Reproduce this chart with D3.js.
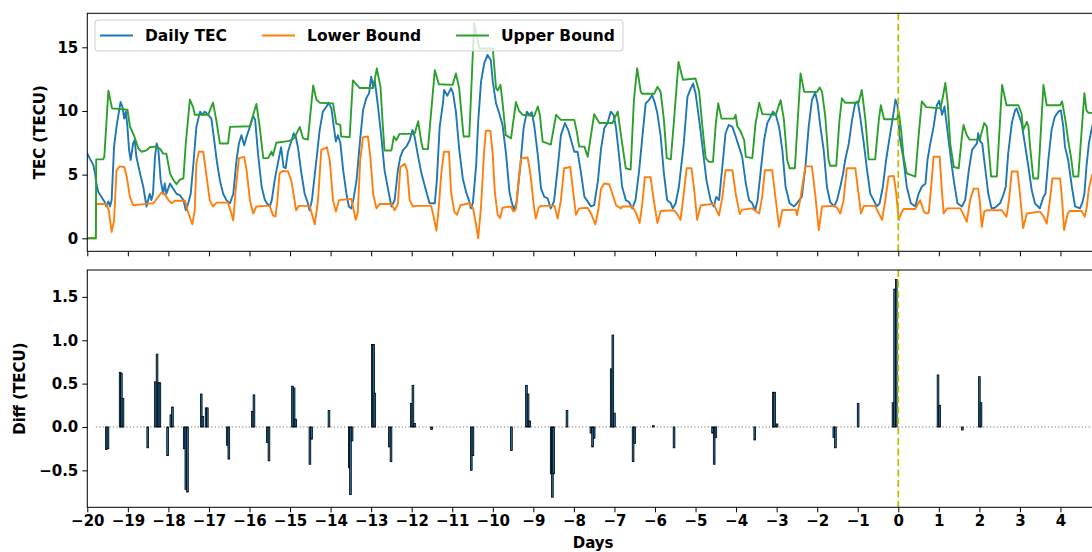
<!DOCTYPE html>
<html>
<head>
<meta charset="utf-8">
<script src="https://cdn.jsdelivr.net/npm/d3@7"></script>
<style>
body { margin: 0; background: #fff; }
svg text { font-family: "DejaVu Sans", sans-serif; font-weight: bold; fill: #000; }
</style>
</head>
<body>
<svg id="chart" width="1092" height="552"></svg>
<script>
// values, [day, TECU]
var tecDaily = [[-20,6.67],[-19.94,6.28],[-19.85,5.75],[-19.81,5.1],[-19.77,4.2],[-19.73,3.65],[-19.65,3.25],[-19.57,2.85],[-19.53,2.5],[-19.48,2.9],[-19.44,2.5],[-19.40,3.0],[-19.34,7.2],[-19.28,8.75],[-19.24,9.55],[-19.18,10.7],[-19.13,10.3],[-19.09,9.4],[-19.05,9.95],[-19.01,8.75],[-18.97,6.95],[-18.93,6.15],[-18.87,7.45],[-18.83,7.7],[-18.79,6.4],[-18.70,5.1],[-18.62,4.05],[-18.54,2.5],[-18.46,3.5],[-18.42,3.0],[-18.38,3.5],[-18.33,6.4],[-18.29,7.45],[-18.25,7.05],[-18.19,4.55],[-18.13,3.5],[-18.09,4.3],[-18.05,3.5],[-17.96,4.3],[-17.88,3.9],[-17.80,3.5],[-17.72,3.4],[-17.63,3.0],[-17.57,2.2],[-17.51,2.75],[-17.45,3.5],[-17.39,5.6],[-17.31,8.75],[-17.22,9.95],[-17.17,9.7],[-17.10,9.95],[-17.02,9.7],[-16.94,9.4],[-16.87,7.7],[-16.81,6.15],[-16.73,4.55],[-16.65,3.5],[-16.57,3.0],[-16.48,2.75],[-16.40,3.5],[-16.32,6.15],[-16.26,7.45],[-16.20,8.1],[-16.13,7.3],[-16.07,8.0],[-15.99,8.75],[-15.91,9.6],[-15.86,9.3],[-15.79,6.65],[-15.70,4.05],[-15.62,3.0],
  [-15.56,2.7],[-15.50,2.5],[-15.45,3.0],[-15.38,4.55],[-15.30,5.9],[-15.22,7.15],[-15.16,5.6],[-15.11,5.5],[-15.05,6.8],[-14.97,7.6],[-14.91,8.25],[-14.86,8.0],[-14.80,7.05],[-14.72,5.1],[-14.64,3.5],[-14.56,2.75],[-14.52,2.2],[-14.46,3.0],[-14.35,6.15],[-14.27,8.5],[-14.19,9.95],[-14.10,10.35],[-14.05,10.65],[-13.98,10.2],[-13.92,8.75],[-13.87,7.6],[-13.82,8.1],[-13.76,7.5],[-13.69,5.35],[-13.61,3.5],[-13.55,2.5],[-13.49,2.35],[-13.44,3.0],[-13.36,4.55],[-13.28,7.45],[-13.20,10.05],[-13.12,11.0],[-13.05,11.4],[-13.0,12.7],[-12.95,11.9],[-12.91,12.4],[-12.83,10.35],[-12.75,8.0],[-12.67,5.35],[-12.58,3.8],[-12.50,2.5],[-12.42,3.0],[-12.34,5.35],[-12.28,6.4],[-12.21,6.95],[-12.13,7.2],[-12.05,7.7],[-11.98,8.5],[-11.93,8.0],[-11.84,6.4],[-11.76,5.1],[-11.65,3.8],[-11.56,2.75],[-11.43,2.75],[-11.38,4.55],[-11.31,8.75],[-11.23,10.6],
  [-11.20,11.65],[-11.12,11.2],[-11.03,11.8],[-10.98,11.4],[-10.91,9.95],[-10.83,7.05],[-10.74,4.7],[-10.66,3.65],[-10.58,2.9],[-10.54,2.35],[-10.49,2.8],[-10.41,5.75],[-10.36,9.15],[-10.29,12.3],[-10.21,13.75],[-10.13,14.4],[-10.05,14.0],[-10.0,12.3],[-9.92,10.6],[-9.84,9.8],[-9.76,8.9],[-9.67,6.55],[-9.59,3.65],[-9.54,2.9],[-9.47,2.2],[-9.41,2.9],[-9.32,5.75],[-9.24,8.65],[-9.16,9.95],[-9.10,9.7],[-9.04,9.9],[-8.98,8.9],[-8.89,6.55],[-8.81,3.9],[-8.73,3.25],[-8.65,3.15],[-8.57,2.35],[-8.49,2.9],[-8.40,5.5],[-8.32,8.1],[-8.22,9.05],[-8.14,8.5],[-8.06,7.6],[-7.99,6.8],[-7.91,6.8],[-7.83,5.25],[-7.74,3.25],[-7.66,2.9],[-7.58,2.5],[-7.50,2.6],[-7.41,4.45],[-7.33,7.05],[-7.25,8.65],[-7.17,9.05],[-7.09,9.95],[-7.02,9.7],[-6.96,8.65],[-6.88,6.3],
  [-6.81,4.05],[-6.72,3.0],[-6.64,2.85],[-6.56,2.35],[-6.48,3.0],[-6.39,5.35],[-6.31,8.0],[-6.23,10.6],[-6.15,10.85],[-6.07,11.25],[-6.01,10.7],[-5.94,9.8],[-5.86,8.0],[-5.78,5.1],[-5.70,3.0],[-5.61,2.75],[-5.56,2.35],[-5.49,2.75],[-5.41,4.05],[-5.29,7.45],[-5.20,11.1],[-5.12,11.75],[-5.06,12.15],[-5.0,11.4],[-4.91,9.3],[-4.83,7.2],[-4.73,4.55],[-4.63,3.0],[-4.55,2.5],[-4.49,3.25],[-4.42,3.0],[-4.34,5.6],[-4.26,8.25],[-4.18,8.9],[-4.09,8.75],[-4.01,8.0],[-3.93,7.2],[-3.85,6.4],[-3.76,4.3],[-3.68,3.0],[-3.60,2.75],[-3.53,2.2],[-3.47,3.0],[-3.39,5.35],[-3.31,7.7],[-3.23,9.05],[-3.15,9.55],[-3.09,9.95],[-3.02,9.7],[-2.94,8.75],[-2.86,6.95],[-2.78,4.05],[-2.68,2.75],[-2.57,2.5],
  [-2.50,2.75],[-2.38,3.25],[-2.29,5.6],[-2.21,8.75],[-2.13,10.85],[-2.05,11.45],[-1.99,10.6],[-1.92,8.75],[-1.84,6.95],[-1.76,4.05],[-1.68,2.85],[-1.58,2.5],[-1.51,3.0],[-1.43,4.05],[-1.36,5.1],[-1.31,6.15],[-1.22,7.45],[-1.14,9.3],[-1.06,10.65],[-1.0,10.75],[-0.94,9.55],[-0.85,7.45],[-0.77,5.35],[-0.69,3.5],[-0.61,3.0],[-0.53,2.5],[-0.46,2.75],[-0.38,4.05],[-0.30,6.15],[-0.21,8.0],[-0.13,9.55],[-0.07,10.9],[-0.02,10.45],[0.03,8.0],[0.12,6.4],[0.21,4.05],[0.31,2.75],[0.42,2.5],[0.50,3.5],[0.58,4.05],[0.67,4.3],[0.72,6.15],[0.79,7.45],[0.87,8.75],[0.95,10.45],[1.01,10.8],[1.08,9.7],[1.14,10.35],[1.22,8.25],[1.30,6.15],[1.38,4.3],[1.46,2.75],[1.57,2.5],[1.65,3.0],[1.74,5.35],[1.82,6.95],[1.94,7.45],
  [1.97,8.25],[2.02,7.6],[2.07,7.45],[2.14,5.6],[2.22,3.5],[2.30,2.35],[2.38,2.4],[2.51,2.75],[2.59,3.4],[2.65,4.05],[2.71,6.65],[2.80,9.05],[2.88,10.05],[2.92,10.2],[2.96,9.8],[3.04,9.05],[3.12,7.45],[3.21,5.6],[3.29,3.8],[3.37,2.75],[3.49,2.35],[3.58,3.25],[3.63,3.5],[3.70,6.15],[3.78,8.5],[3.86,9.55],[3.95,9.95],[4.01,10.05],[4.07,8.75],[4.11,7.2],[4.19,6.15],[4.28,4.05],[4.36,2.5],[4.48,2.35],[4.54,2.8],[4.59,3.5],[4.64,5.6],[4.70,7.45],[4.78,8.75],[4.95,10.3]];

var lowerBound = [[-20,0],[-19.79,0],[-19.78,2.7],[-19.53,2.7],[-19.47,2.2],[-19.40,0.5],[-19.34,1.4],[-19.28,5.35],[-19.20,5.65],[-19.09,5.6],[-19.03,4.9],[-18.95,3.25],[-18.87,2.6],[-18.54,2.7],[-18.37,2.75],[-18.17,3.6],[-18.09,3.45],[-18.0,3.0],[-17.92,2.75],[-17.84,2.95],[-17.59,2.95],[-17.51,2.0],[-17.41,1.1],[-17.35,2.2],[-17.31,5.9],[-17.25,6.8],[-17.14,6.8],[-17.08,5.35],[-16.98,3.0],[-16.90,2.5],[-16.81,2.8],[-16.53,2.8],[-16.45,2.0],[-16.40,1.4],[-16.35,3.5],[-16.26,6.3],[-16.13,6.4],[-16.07,5.3],[-15.99,3.0],[-15.91,1.95],[-15.83,2.5],[-15.62,2.55],
  [-15.50,2.55],[-15.42,1.8],[-15.36,1.7],[-15.31,3.0],[-15.26,5.1],[-15.17,5.3],[-15.05,5.25],[-14.97,4.55],[-14.89,3.0],[-14.85,2.2],[-14.78,2.55],[-14.52,2.55],[-14.46,1.9],[-14.39,1.1],[-14.31,3.0],[-14.23,6.95],[-14.09,7.15],[-14.02,6.1],[-13.94,3.0],[-13.87,2.1],[-13.79,3.0],[-13.49,3.1],[-13.45,2.5],[-13.38,1.45],[-13.33,2.0],[-13.27,6.15],[-13.20,7.95],[-13.08,8.0],[-13.02,6.4],[-12.95,3.5],[-12.87,2.35],[-12.79,2.7],[-12.50,2.7],[-12.42,2.2],[-12.34,2.7],[-12.28,5.6],[-12.17,5.85],[-12.11,5.3],[-12.05,3.0],[-11.97,2.5],[-11.87,2.55],[-11.52,2.55],[-11.46,1.7],[-11.39,0.6],[-11.33,2.5],[-11.27,5.1],[-11.23,6.15],
  [-11.20,6.8],[-11.08,6.8],[-11.03,3.65],[-10.95,2.1],[-10.88,1.85],[-10.80,2.6],[-10.58,2.75],[-10.49,2.4],[-10.41,1.05],[-10.36,0.0],[-10.29,2.5],[-10.21,7.05],[-10.17,8.45],[-10.06,8.45],[-10.0,6.55],[-9.95,3.65],[-9.88,1.85],[-9.82,1.6],[-9.76,2.4],[-9.55,2.5],[-9.49,2.1],[-9.43,2.3],[-9.35,5.0],[-9.30,6.3],[-9.14,6.35],[-9.07,5.0],[-8.99,2.6],[-8.94,1.55],[-8.87,2.4],[-8.81,2.55],[-8.48,2.55],[-8.40,1.55],[-8.32,3.0],[-8.24,5.5],[-8.09,5.6],[-8.03,4.0],[-7.95,1.85],[-7.87,2.35],[-7.66,2.4],[-7.58,1.95],[-7.47,1.1],[-7.40,2.2],[-7.33,3.9],[-7.25,4.3],[-7.13,4.25],[-7.04,3.4],[-6.96,2.6],[-6.84,2.35],
  [-6.81,2.5],[-6.56,2.5],[-6.47,2.0],[-6.38,1.2],[-6.32,2.5],[-6.25,4.8],[-6.11,4.8],[-6.03,3.0],[-5.94,1.2],[-5.86,2.15],[-5.53,2.2],[-5.45,1.9],[-5.37,1.45],[-5.29,3.5],[-5.22,5.5],[-5.10,5.5],[-5.04,4.0],[-4.96,1.45],[-4.87,2.6],[-4.55,2.7],[-4.48,2.2],[-4.42,1.8],[-4.34,3.2],[-4.26,5.35],[-4.09,5.35],[-4.01,3.5],[-3.91,1.9],[-3.85,2.25],[-3.60,2.35],[-3.50,2.1],[-3.43,1.95],[-3.36,3.2],[-3.29,5.35],[-3.11,5.35],[-3.04,3.5],[-2.94,0.9],[-2.86,2.2],[-2.53,2.25],
  [-2.50,1.8],[-2.42,3.0],[-2.29,5.65],[-2.13,5.65],[-2.05,3.5],[-1.96,0.65],[-1.88,2.5],[-1.59,2.55],[-1.51,2.4],[-1.43,1.95],[-1.35,3.0],[-1.27,5.5],[-1.06,5.5],[-1.0,4.0],[-0.92,1.95],[-0.85,2.55],[-0.57,2.55],[-0.48,1.95],[-0.40,1.45],[-0.32,3.0],[-0.24,4.85],[-0.11,4.9],[-0.05,3.5],[0.01,1.45],[0.07,1.95],[0.13,2.3],[0.42,2.3],[0.54,3.0],[0.63,2.1],[0.69,1.95],[0.75,2.0],[0.81,4.0],[0.87,6.4],[1.02,6.4],[1.07,4.0],[1.12,1.95],[1.20,2.35],[1.53,2.35],[1.60,1.9],[1.69,1.3],[1.77,3.0],[1.86,3.9],[1.97,3.9],
  [2.01,2.9],[2.06,0.9],[2.12,2.1],[2.18,2.2],[2.55,2.2],[2.62,1.9],[2.67,1.7],[2.73,3.0],[2.80,5.25],[2.94,5.25],[3.0,3.5],[3.08,0.8],[3.17,1.95],[3.49,2.1],[3.57,1.8],[3.66,1.15],[3.74,3.0],[3.80,4.7],[3.99,4.7],[4.04,3.0],[4.09,0.65],[4.18,1.95],[4.23,2.15],[4.52,2.15],[4.60,1.7],[4.65,2.5],[4.70,3.9],[4.78,5.0],[4.95,5.2]];

var upperBound = [[-20,0],[-19.79,0],[-19.78,6.2],[-19.61,6.2],[-19.58,6.4],[-19.48,11.6],[-19.39,10.2],[-19.01,10.1],[-18.95,8.8],[-18.84,8.0],[-18.74,7.05],[-18.66,6.8],[-18.54,6.9],[-18.46,7.15],[-18.33,7.2],[-18.21,7.05],[-18.13,6.65],[-18.05,6.65],[-17.96,5.1],[-17.88,4.6],[-17.80,4.25],[-17.72,4.6],[-17.63,4.7],[-17.57,7.5],[-17.47,10.9],[-17.39,10.3],[-17.35,9.7],[-17.02,9.7],[-16.90,10.65],[-16.82,9.3],[-16.73,7.45],[-16.53,7.45],[-16.48,8.75],[-15.99,8.8],[-15.83,10.55],[-15.75,8.8],[-15.66,6.3],
  [-15.54,6.3],[-15.46,6.8],[-15.42,6.5],[-15.34,7.5],[-15.01,7.65],[-14.89,7.9],[-14.76,8.75],[-14.68,7.85],[-14.56,7.75],[-14.43,12.0],[-14.35,10.9],[-14.27,10.65],[-13.94,10.6],[-13.86,9.0],[-13.76,8.9],[-13.74,8.0],[-13.53,7.95],[-13.45,12.4],[-13.28,11.8],[-12.95,11.8],[-12.86,13.35],[-12.77,11.9],[-12.71,8.75],[-12.67,6.9],[-12.50,6.9],[-12.44,8.0],[-12.38,7.7],[-12.30,8.2],[-11.93,8.2],[-11.84,9.2],[-11.76,7.5],[-11.72,7.0],[-11.60,7.0],[-11.43,13.2],[-11.33,12.1],
  [-10.99,12.05],[-10.91,12.95],[-10.83,11.8],[-10.77,9.7],[-10.72,8.0],[-10.58,8.0],[-10.46,16.9],[-10.33,14.9],[-10.0,14.9],[-9.92,11.8],[-9.88,11.6],[-9.81,12.05],[-9.76,10.7],[-9.68,8.1],[-9.55,7.85],[-9.43,10.7],[-9.35,10.0],[-9.26,9.7],[-8.98,9.6],[-8.89,10.35],[-8.84,9.7],[-8.77,7.6],[-8.57,7.35],[-8.44,9.7],[-8.32,9.3],[-7.99,9.3],[-7.93,8.4],[-7.87,7.2],[-7.74,7.2],[-7.66,6.4],[-7.50,9.75],[-7.37,9.05],[-7.05,9.05],[-6.92,9.95],
  [-6.81,7.45],[-6.72,5.5],[-6.60,5.4],[-6.52,10.85],[-6.44,13.35],[-6.35,11.5],[-6.31,11.35],[-6.02,11.35],[-5.94,11.9],[-5.86,11.5],[-5.78,9.3],[-5.71,6.3],[-5.61,6.2],[-5.53,9.3],[-5.42,13.85],[-5.31,12.45],[-5.0,12.55],[-4.91,11.5],[-4.83,8.75],[-4.75,6.3],[-4.67,6.0],[-4.57,6.0],[-4.50,9.0],[-4.44,10.6],[-4.36,9.4],[-4.05,9.4],[-4.01,9.7],[-3.97,8.8],[-3.89,8.4],[-3.80,7.7],[-3.76,6.4],[-3.60,6.3],[-3.52,9.0],[-3.43,10.65],[-3.35,9.75],[-3.02,9.7],[-2.90,10.85],[-2.82,9.3],[-2.74,6.15],[-2.68,5.5],[-2.55,5.5],
  [-2.41,12.95],[-2.32,11.5],[-2.0,11.5],[-1.94,11.85],[-1.88,11.5],[-1.80,9.55],[-1.72,6.15],[-1.68,5.7],[-1.53,5.7],[-1.45,9.3],[-1.39,11.0],[-1.31,10.65],[-0.98,10.65],[-0.90,11.65],[-0.81,9.3],[-0.73,6.2],[-0.57,6.2],[-0.48,9.3],[-0.43,10.45],[-0.35,9.35],[-0.03,9.35],[0.01,9.95],[0.07,8.5],[0.13,6.4],[0.21,5.1],[0.42,4.85],[0.50,8.0],[0.58,10.75],[0.69,10.3],[1.04,10.2],[1.10,11.1],[1.16,12.2],[1.22,10.6],[1.28,7.45],[1.37,5.6],[1.49,5.5],[1.57,8.0],[1.61,8.9],[1.69,8.1],[1.76,7.75],
  [2.01,7.75],[2.12,9.05],[2.18,8.8],[2.24,6.7],[2.29,4.85],[2.43,4.85],[2.56,12.05],[2.67,10.45],[2.96,10.45],[3.04,9.8],[3.08,8.5],[3.17,9.15],[3.21,8.8],[3.25,7.2],[3.33,4.7],[3.45,4.7],[3.58,12.05],[3.66,10.45],[3.99,10.45],[4.04,10.75],[4.12,9.3],[4.19,7.7],[4.27,6.15],[4.32,4.85],[4.44,4.85],[4.59,11.4],[4.64,10.05],[4.69,9.85],[4.95,9.85]];

// diff bars (hours where TEC leaves the bounds)
var diffDays = [-19.53,-19.49,-19.19,-19.16,-19.12,-18.51,-18.32,-18.28,-18.24,-18.21,-18.02,-17.94,-17.90,-17.61,-17.57,-17.53,-17.19,-17.15,-17.07,-17.04,-16.55,-16.51,-15.93,-15.89,-15.56,-15.52,-14.94,-14.90,-14.86,-14.51,-14.47,-14.04,-13.54,-13.51,-13.47,-12.97,-12.94,-12.91,-12.55,-12.51,-12.01,-11.97,-11.93,-11.51,-10.53,-10.49,-9.54,-9.17,-9.13,-9.09,-8.56,-8.53,-8.50,-8.17,-7.58,-7.54,-7.50,-7.08,-7.04,-7.00,-6.54,-6.50,-6.04,-5.53,-4.58,-4.54,-4.50,-3.54,-3.08,-3.05,-2.99,-1.59,-1.55,-0.99,-0.13,-0.09,-0.05,0.98,1.02,1.58,2.00,2.04];
var diffValues = [-0.26,-0.25,0.63,0.62,0.33,-0.24,0.52,0.84,0.51,0.51,-0.33,0.14,0.23,-0.25,-0.72,-0.75,0.38,0.12,0.22,0.22,-0.21,-0.37,0.18,0.37,-0.18,-0.39,0.47,0.45,0.09,-0.43,-0.14,0.19,-0.47,-0.78,-0.16,0.95,0.95,0.39,-0.23,-0.40,0.27,0.48,0.04,-0.03,-0.50,-0.33,-0.27,0.48,0.38,0.07,-0.54,-0.81,-0.54,0.19,-0.07,-0.23,-0.13,0.67,1.06,0.16,-0.40,-0.19,0.015,-0.24,-0.07,-0.43,-0.12,-0.15,0.40,0.40,0.035,-0.12,-0.24,0.27,0.28,1.59,1.70,0.60,0.25,-0.035,0.58,0.28];

var dayTicks = [-20,-19,-18,-17,-16,-15,-14,-13,-12,-11,-10,-9,-8,-7,-6,-5,-4,-3,-2,-1,0,1,2,3,4];
var tecTicks = [0, 5, 10, 15];
var diffTicks = [-0.5, 0, 0.5, 1.0, 1.5];
var eventDay = 0;
var boundStart = -19.79;

var seriesList = [
  {name: "Daily TEC", color: "#1f77b4", data: tecDaily},
  {name: "Lower Bound", color: "#ff7f0e", data: lowerBound},
  {name: "Upper Bound", color: "#2ca02c", data: upperBound}
];

var svg = d3.select("#chart");
var left = 87.3, right = 1099;

var x = d3.scaleLinear().domain([-20, 4.95]).range([left, right]);
var yTop = d3.scaleLinear().domain([-1.02, 17.67]).range([251.3, 13.3]);
var yBot = d3.scaleLinear().domain([-0.926, 1.81]).range([507.3, 270]);

var defs = svg.append("defs");
defs.append("clipPath").attr("id", "clipTop").append("rect")
  .attr("x", left).attr("y", yTop.range()[1]).attr("width", right - left).attr("height", yTop.range()[0] - yTop.range()[1]);
defs.append("clipPath").attr("id", "clipBot").append("rect")
  .attr("x", left).attr("y", yBot.range()[1]).attr("width", right - left).attr("height", yBot.range()[0] - yBot.range()[1]);

// ---- top panel
var topPanel = svg.append("g").attr("clip-path", "url(#clipTop)");
var line = d3.line()
  .x(function(d) { return x(d[0]); })
  .y(function(d) { return yTop(d[1]); });

seriesList.forEach(function(s) {
  topPanel.append("path")
    .datum(s.data)
    .attr("fill", "none")
    .attr("stroke", s.color)
    .attr("stroke-width", 1.9)
    .attr("stroke-linejoin", "round")
    .attr("d", line);
});

topPanel.append("line")
  .attr("x1", x(eventDay)).attr("x2", x(eventDay))
  .attr("y1", yTop.range()[1]).attr("y2", yTop.range()[0])
  .attr("stroke", "#bfbf00").attr("stroke-width", 1.8).attr("stroke-dasharray", "7,3.5");

// ---- bottom panel
var botPanel = svg.append("g").attr("clip-path", "url(#clipBot)");
var barW = 1 / 24;

botPanel.append("line")
  .attr("x1", x(boundStart)).attr("x2", x(4.95))
  .attr("y1", yBot(0)).attr("y2", yBot(0))
  .attr("stroke", "#555").attr("stroke-opacity", 0.8).attr("stroke-width", 1.2).attr("stroke-dasharray", "1.2,2.2");

botPanel.selectAll("rect.bar")
  .data(diffDays)
  .enter().append("rect")
  .attr("class", "bar")
  .attr("x", function(d) { return x(d - barW / 2); })
  .attr("width", x(barW) - x(0))
  .attr("y", function(d, i) { return yBot(Math.max(0, diffValues[i])); })
  .attr("height", function(d, i) { return Math.abs(yBot(diffValues[i]) - yBot(0)); })
  .attr("fill", "#1f77b4")
  .attr("stroke", "#000")
  .attr("stroke-width", 0.8);

botPanel.append("line")
  .attr("x1", x(eventDay)).attr("x2", x(eventDay))
  .attr("y1", yBot.range()[1]).attr("y2", yBot.range()[0])
  .attr("stroke", "#bfbf00").attr("stroke-width", 1.8).attr("stroke-dasharray", "7,3.5");

// ---- axes
function styleAxis(g) {
  g.selectAll("path.domain").remove();
  g.selectAll(".tick line").attr("stroke", "#000").attr("stroke-width", 1);
  g.selectAll(".tick text").style("font-size", "15px").style("font-family", "DejaVu Sans").style("font-weight", "bold");
}

svg.append("g")
  .attr("transform", "translate(0," + yTop.range()[0] + ")")
  .call(d3.axisBottom(x).tickValues(dayTicks).tickSize(5).tickFormat(""))
  .call(styleAxis);

svg.append("g")
  .attr("transform", "translate(" + left + ",0)")
  .call(d3.axisLeft(yTop).tickValues(tecTicks).tickSize(5).tickPadding(4).tickFormat(d3.format("d")))
  .call(styleAxis);

svg.append("g")
  .attr("transform", "translate(0," + yBot.range()[0] + ")")
  .call(d3.axisBottom(x).tickValues(dayTicks).tickSize(5).tickPadding(3).tickFormat(d3.format("d")))
  .call(styleAxis);

svg.append("g")
  .attr("transform", "translate(" + left + ",0)")
  .call(d3.axisLeft(yBot).tickValues(diffTicks).tickSize(5).tickPadding(4).tickFormat(d3.format(".1f")))
  .call(styleAxis);

// frames
[yTop, yBot].forEach(function(y) {
  svg.append("rect")
    .attr("x", left).attr("y", y.range()[1])
    .attr("width", right - left).attr("height", y.range()[0] - y.range()[1])
    .attr("fill", "none").attr("stroke", "#000").attr("stroke-width", 1);
});

// axis labels
svg.append("text")
  .attr("transform", "translate(40," + (yTop.range()[0] + yTop.range()[1]) / 2 + ") rotate(-90)")
  .attr("text-anchor", "middle").attr("dy", "0.35em")
  .style("font-size", "15px")
  .text("TEC (TECU)");

svg.append("text")
  .attr("transform", "translate(20," + (yBot.range()[0] + yBot.range()[1]) / 2 + ") rotate(-90)")
  .attr("text-anchor", "middle").attr("dy", "0.35em")
  .style("font-size", "15px")
  .text("Diff (TECU)");

svg.append("text")
  .attr("x", (left + right) / 2).attr("y", 547.5)
  .attr("text-anchor", "middle")
  .style("font-size", "15px")
  .text("Days");

// ---- legend
var legend = svg.append("g");
legend.append("rect")
  .attr("x", 95).attr("y", 20).attr("width", 528).attr("height", 31).attr("rx", 3)
  .attr("fill", "#fff").attr("fill-opacity", 0.8)
  .attr("stroke", "#ccc").attr("stroke-width", 1);

var legendX = [100, 262, 456];
seriesList.forEach(function(s, i) {
  legend.append("line")
    .attr("x1", legendX[i]).attr("x2", legendX[i] + 33)
    .attr("y1", 35.5).attr("y2", 35.5)
    .attr("stroke", s.color).attr("stroke-width", 1.9);
  legend.append("text")
    .attr("x", legendX[i] + 45).attr("y", 35.5).attr("dy", "0.35em")
    .style("font-size", "15.5px")
    .text(s.name);
});
</script>
</body>
</html>
